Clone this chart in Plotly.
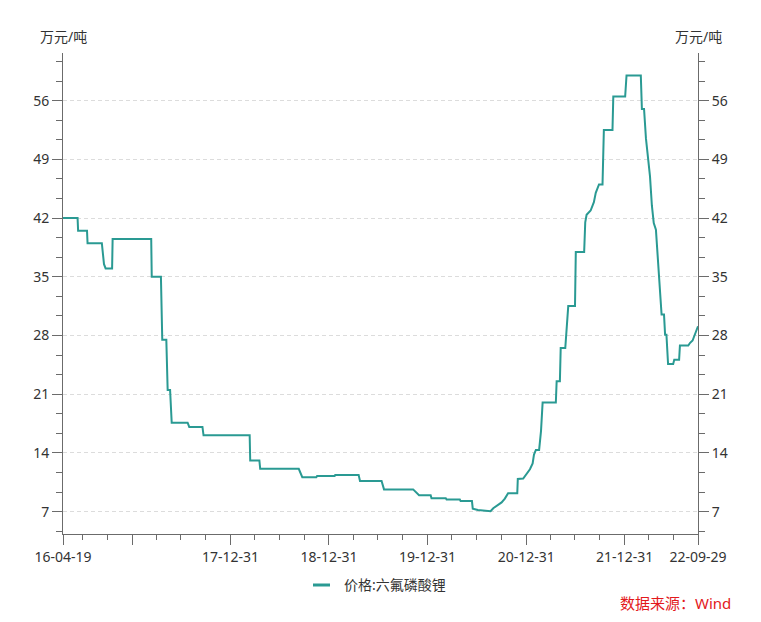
import plotly.graph_objects as go

# ---- data ----
dates = [
    "2016-04-19", "2016-06-12", "2016-06-14", "2016-07-17", "2016-07-19", "2016-09-10",
    "2016-09-18", "2016-09-24", "2016-10-18", "2016-10-20", "2017-03-12", "2017-03-14",
    "2017-04-17", "2017-04-22", "2017-05-07", "2017-05-12", "2017-05-21", "2017-05-27",
    "2017-07-25", "2017-07-31", "2017-09-18", "2017-09-22", "2018-03-12", "2018-03-14",
    "2018-04-17", "2018-04-20", "2018-09-10", "2018-09-16", "2018-09-23", "2018-11-14",
    "2018-11-17", "2019-01-21", "2019-01-23", "2019-04-20", "2019-04-25", "2019-07-14",
    "2019-07-23", "2019-11-08", "2019-11-21", "2019-11-30", "2020-01-12", "2020-01-15",
    "2020-03-08", "2020-03-11", "2020-04-29", "2020-05-02", "2020-06-13", "2020-06-16",
    "2020-07-05", "2020-08-06", "2020-08-21", "2020-08-31", "2020-09-12", "2020-10-01",
    "2020-10-13", "2020-10-25", "2020-11-28", "2020-11-30", "2020-12-20", "2021-01-02",
    "2021-01-14", "2021-01-24", "2021-01-29", "2021-02-05", "2021-02-17", "2021-02-24",
    "2021-03-02", "2021-04-20", "2021-04-23", "2021-05-05", "2021-05-08", "2021-05-25",
    "2021-05-30", "2021-06-05", "2021-06-30", "2021-07-03", "2021-08-03", "2021-08-07",
    "2021-08-12", "2021-08-27", "2021-09-08", "2021-09-15", "2021-09-27", "2021-10-10",
    "2021-10-15", "2021-11-16", "2021-11-19", "2022-01-02", "2022-01-07", "2022-03-01",
    "2022-03-05", "2022-03-13", "2022-03-20", "2022-04-04", "2022-04-11", "2022-04-18",
    "2022-04-26", "2022-05-04", "2022-05-11", "2022-05-17", "2022-05-26", "2022-05-30",
    "2022-06-04", "2022-06-10", "2022-06-29", "2022-07-03", "2022-07-21", "2022-07-24",
    "2022-08-24", "2022-08-30", "2022-09-09", "2022-09-17", "2022-09-29",
]
prices = [
    42, 42, 40.5, 40.5, 39, 39,
    36.5, 36, 36, 39.5, 39.5, 35,
    35, 27.5, 27.5, 21.5, 21.5, 17.6,
    17.6, 17.1, 17.1, 16.1, 16.1, 13.1,
    13.1, 12.1, 12.1, 11.6, 11.1, 11.1,
    11.25, 11.25, 11.35, 11.35, 10.65, 10.65,
    9.65, 9.65, 9.25, 8.95, 8.95, 8.6,
    8.6, 8.45, 8.45, 8.25, 8.25, 7.35,
    7.2, 7.1, 7.05, 7.4, 7.7, 8.1,
    8.55, 9.2, 9.2, 10.9, 10.95, 11.45,
    12.05, 12.75, 13.8, 14.35, 14.35, 16.6,
    20, 20, 22.55, 22.55, 26.5, 26.5,
    28.5, 31.5, 31.5, 37.95, 37.95, 41.5,
    42.4, 42.9, 43.9, 45, 46, 46,
    52.5, 52.5, 56.5, 56.5, 59, 59,
    55, 55, 51.5, 47, 43.5, 41.4,
    40.6, 37, 33, 30.5, 30.5, 28.1,
    28.1, 24.6, 24.6, 25.1, 25.1, 26.8,
    26.8, 27.1, 27.4, 28.1, 29.1,
]
series_name = "价格:六氟磷酸锂"
unit_label = "万元/吨"
source_label = "数据来源：Wind"

x_major_vals = ["2016-04-19", "2016-12-31", "2017-12-31", "2018-12-31",
                "2019-12-31", "2020-12-31", "2021-12-31", "2022-09-29"]
x_major_text = ["16-04-19", "", "17-12-31", "18-12-31",
                "19-12-31", "20-12-31", "21-12-31", "22-09-29"]
x_minor_vals = ["2016-06-30", "2016-09-30", "2017-03-31", "2017-06-30", "2017-09-30",
                "2018-03-31", "2018-06-30", "2018-09-30", "2019-03-31", "2019-06-30",
                "2019-09-30", "2020-03-31", "2020-06-30", "2020-09-30", "2021-03-31",
                "2021-06-30", "2021-09-30", "2022-03-31", "2022-06-30"]
y_range = [4.33, 61.68]
x_range = ["2016-04-19", "2022-09-29"]

LINE_COLOR = "#2A9A93"
AXIS_COLOR = "#6b6b6b"
TEXT_COLOR = "#333333"
FONT = "Noto Sans, Noto Sans CJK SC, sans-serif"

OFF = 8  # page body margin
W, H = 761 - OFF, 622 - OFF
# plot area in page pixels: x 63..698, y 53..534
L = 63 - OFF
T = 53 - OFF
R = W - (698 - OFF)
B = H - (534 - OFF)
pw, ph = W - L - R, H - T - B


def px_x(x):
    return (x - OFF - L) / pw


def px_y(y):
    return (H - B - (y - OFF)) / ph


fig = go.Figure()
fig.add_trace(go.Scatter(
    x=dates, y=prices, mode="lines", name=series_name,
    line=dict(color=LINE_COLOR, width=2), showlegend=False,
))
fig.add_trace(go.Scatter(
    x=dates, y=prices, mode="lines", yaxis="y2",
    line=dict(color="rgba(0,0,0,0)", width=0), showlegend=False, hoverinfo="skip",
))

yax_common = dict(
    range=y_range, tickmode="linear", tick0=0, dtick=7,
    ticks="outside", ticklen=10, tickwidth=1, tickcolor=AXIS_COLOR,
    showline=True, linecolor=AXIS_COLOR, linewidth=1,
    tickfont=dict(size=14, color=TEXT_COLOR, family=FONT),
    zeroline=False,
    minor=dict(tickmode="linear", tick0=0, dtick=7 / 3, ticks="outside",
               ticklen=6, tickcolor=AXIS_COLOR, showgrid=False),
)

fig.update_layout(
    width=W, height=H,
    margin=dict(l=L, r=R, t=T, b=B, autoexpand=False),
    paper_bgcolor="white", plot_bgcolor="white",
    font=dict(family=FONT, size=14, color=TEXT_COLOR),
    xaxis=dict(
        type="date", range=x_range,
        tickmode="array", tickvals=x_major_vals, ticktext=x_major_text,
        ticks="outside", ticklen=10, tickwidth=1, tickcolor=AXIS_COLOR,
        showline=True, linecolor=AXIS_COLOR, linewidth=1,
        showgrid=False, zeroline=False,
        tickfont=dict(size=14, color=TEXT_COLOR, family=FONT),
        minor=dict(tickmode="array", tickvals=x_minor_vals, ticks="outside",
                   ticklen=5, tickcolor=AXIS_COLOR, showgrid=False),
    ),
    yaxis=dict(**yax_common, side="left", showgrid=True, gridcolor="#dcdcdc",
               griddash="4px,3px", gridwidth=1),
    yaxis2=dict(**yax_common, side="right", overlaying="y", showgrid=False),
    showlegend=False,
)

# unit labels
fig.add_annotation(x=px_x(63), y=px_y(36), xref="paper", yref="paper",
                   text=unit_label, showarrow=False, xanchor="center", yanchor="middle",
                   font=dict(size=14, color=TEXT_COLOR, family=FONT))
fig.add_annotation(x=px_x(698), y=px_y(36), xref="paper", yref="paper",
                   text=unit_label, showarrow=False, xanchor="center", yanchor="middle",
                   font=dict(size=14, color=TEXT_COLOR, family=FONT))

# legend (drawn manually)
fig.add_shape(type="line", xref="paper", yref="paper",
              x0=px_x(313), x1=px_x(330), y0=px_y(585), y1=px_y(585),
              line=dict(color=LINE_COLOR, width=3))
fig.add_annotation(x=px_x(342), y=px_y(584), xref="paper", yref="paper",
                   text=series_name, showarrow=False, xanchor="left", yanchor="middle",
                   font=dict(size=14, color=TEXT_COLOR, family=FONT))

# source
fig.add_annotation(x=px_x(733), y=px_y(603), xref="paper", yref="paper",
                   text=source_label, showarrow=False, xanchor="right", yanchor="middle",
                   font=dict(size=15, color="#E3191C", family=FONT))

fig.write_html("out.html")
